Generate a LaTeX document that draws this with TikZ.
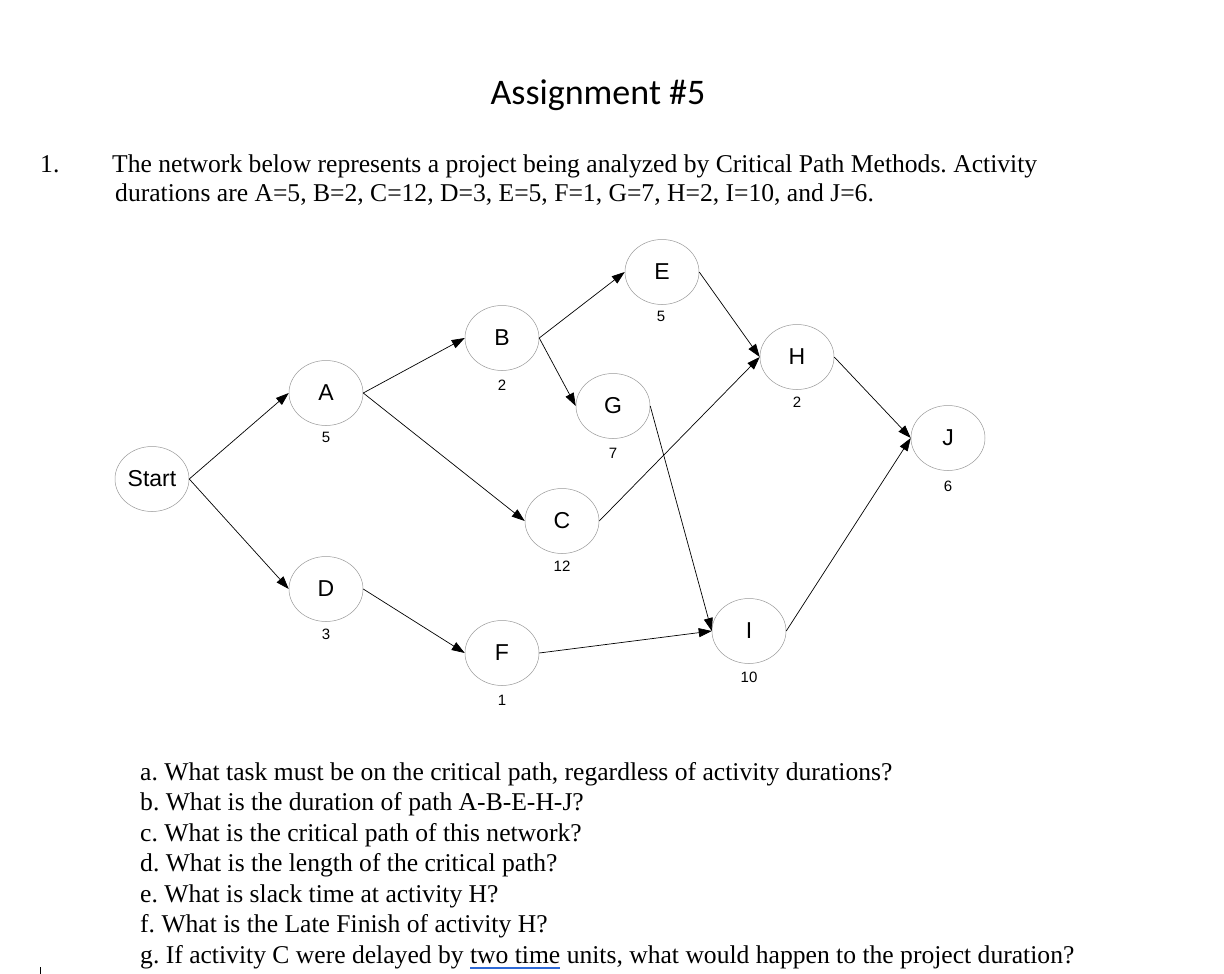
\documentclass[tikz,border=0pt]{standalone}
\usepackage{fontspec}
\setmainfont{Liberation Serif}
\newfontfamily\arialf{Liberation Sans}
\newfontfamily\calibrif{Carlito}
\usetikzlibrary{arrows.meta,shapes.geometric}
\definecolor{ulblue}{RGB}{45,105,215}
\newcommand\blueunder[1]{\setbox0\hbox{#1}\rlap{\textcolor{ulblue}{\rule[-5.5pt]{\wd0}{2pt}}}\box0}
\frenchspacing
\begin{document}
\begin{tikzpicture}[x=1pt,y=-1pt,
  act/.style={ellipse, draw=black!40, line width=0.5pt, minimum width=74pt, minimum height=65pt, inner sep=0pt, font=\arialf\fontsize{23}{23}\selectfont},
  dur/.style={inner sep=0pt, font=\arialf\fontsize{15}{15}\selectfont},
  link/.style={-{Triangle[length=13pt,width=9pt]}, line width=0.7pt},
  qline/.style={anchor=base west, inner sep=0pt, font=\fontsize{25.6}{25.6}\selectfont}]
\useasboundingbox (0,0) rectangle (1224,974);
\fill[white] (0,0) rectangle (1224,974);

% title and statement
\node[anchor=base, inner sep=0pt, font=\calibrif\fontsize{36}{36}\selectfont] (title) at (598,104) {Assignment \#5};
\node[qline] (num) at (40,172) {1.};
\node[qline] (st1) at (112,172) {The network below represents a project being analyzed by Critical Path Methods. Activity};
\node[qline] (st2) at (115,201) {durations are A=5, B=2, C=12, D=3, E=5, F=1, G=7, H=2, I=10, and J=6.};

% activities
\node[act] (S) at (152,479) {Start};
\node[act] (A) at (326,393) {A};
\node[act] (B) at (502,338) {B};
\node[act] (E) at (662,272) {E};
\node[act] (G) at (613,406) {G};
\node[act] (H) at (797,357) {H};
\node[act] (C) at (562,521) {C};
\node[act] (J) at (948,438) {J};
\node[act] (D) at (326,589) {D};
\node[act] (F) at (502,653) {F};
\node[act] (I) at (749,631) {I};

% durations
\node[dur] (dA) at (326,437) {5};
\node[dur] (dB) at (502,385) {2};
\node[dur] (dE) at (661,316) {5};
\node[dur] (dG) at (613,453) {7};
\node[dur] (dH) at (797,402) {2};
\node[dur] (dC) at (562,566) {12};
\node[dur] (dJ) at (948,486) {6};
\node[dur] (dD) at (326,634) {3};
\node[dur] (dF) at (502,700) {1};
\node[dur] (dI) at (749,677) {10};

% connectors
\draw[link] (S.east) -- (A.west);
\draw[link] (S.east) -- (D.west);
\draw[link] (A.east) -- (B.west);
\draw[link] (A.east) -- (C.west);
\draw[link] (B.east) -- (E.west);
\draw[link] (B.east) -- (G.west);
\draw[link] (E.east) -- (H.west);
\draw[link] (C.east) -- (H.west);
\draw[link] (G.east) -- (I.west);
\draw[link] (D.east) -- (F.west);
\draw[link] (F.east) -- (I.west);
\draw[link] (H.east) -- (J.west);
\draw[link] (I.east) -- (J.west);

% questions
\node[qline] (qa) at (140,780) {a. What task must be on the critical path, regardless of activity durations?};
\node[qline] (qb) at (140,810.5) {b. What is the duration of path A-B-E-H-J?};
\node[qline] (qc) at (140,841) {c. What is the critical path of this network?};
\node[qline] (qd) at (140,871.5) {d. What is the length of the critical path?};
\node[qline] (qe) at (140,902) {e. What is slack time at activity H?};
\node[qline] (qf) at (140,932.5) {f. What is the Late Finish of activity H?};
\node[qline] (qg) at (140,963) {g. If activity C were delayed by \blueunder{two time}\ units, what would happen to the project duration?};
\draw[line width=0.8pt] (40,967) -- (40,974);
\end{tikzpicture}
\end{document}
